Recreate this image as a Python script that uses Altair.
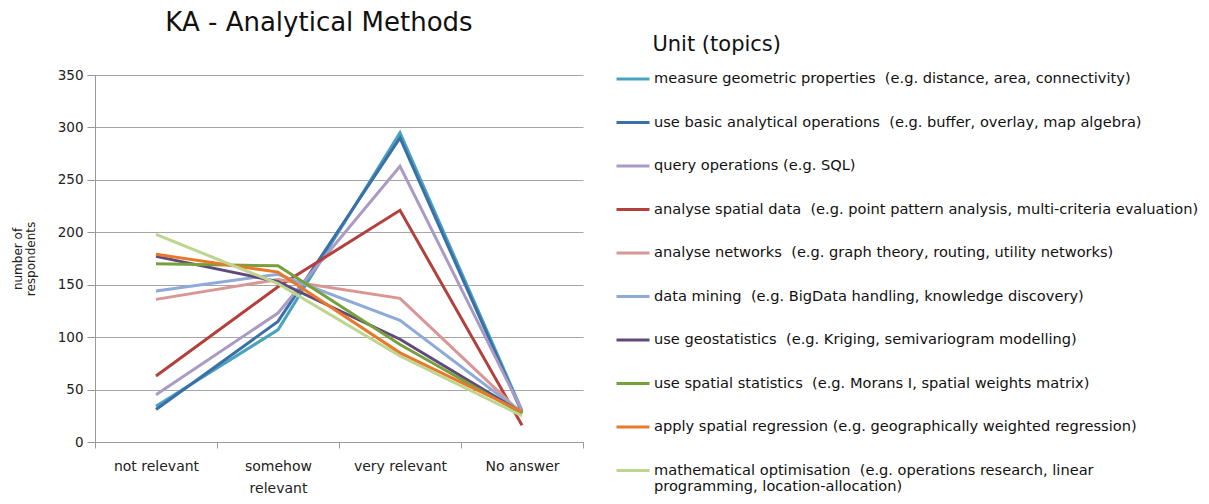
import altair as alt
import pandas as pd

categories = ["not relevant", "somehow relevant", "very relevant", "No answer"]

NB = "\u00a0"
series = [
    "measure geometric properties " + NB + "(e.g. distance, area, connectivity)",
    "use basic analytical operations " + NB + "(e.g. buffer, overlay, map algebra)",
    "query operations (e.g. SQL)",
    "analyse spatial data " + NB + "(e.g. point pattern analysis, multi-criteria evaluation)",
    "analyse networks " + NB + "(e.g. graph theory, routing, utility networks)",
    "data mining " + NB + "(e.g. BigData handling, knowledge discovery)",
    "use geostatistics " + NB + "(e.g. Kriging, semivariogram modelling)",
    "use spatial statistics " + NB + "(e.g. Morans I, spatial weights matrix)",
    "apply spatial regression (e.g. geographically weighted regression)",
    "mathematical optimisation " + NB + "(e.g. operations research, linear programming, location-allocation)",
]

colors = ["#4aa3bd", "#3b6fa8", "#a99bc4", "#b3403d", "#d99694",
          "#8eaad8", "#604a7b", "#77a03c", "#e8782a", "#bcd58f"]

v_measure = [34, 107, 295, 30]
v_basic = [31, 115, 290, 28]
v_query = [45, 123, 263, 30]
v_spatial = [63, 148, 221, 16]
v_networks = [136, 155, 137, 27]
v_mining = [144, 160, 116, 28]
v_geostat = [177, 153, 98, 28]
v_spstat = [170, 168, 93, 27]
v_regress = [179, 162, 85, 29]
v_optim = [198, 151, 82, 25]

values = [v_measure, v_basic, v_query, v_spatial, v_networks,
          v_mining, v_geostat, v_spstat, v_regress, v_optim]

rows = []
for i, (s, vals) in enumerate(zip(series, values)):
    for c, v in zip(categories, vals):
        rows.append({"category": c, "series": s, "value": v, "order": i})
df = pd.DataFrame(rows)

font = "DejaVu Sans"
last = series[-1]
label_expr = (
    "datum.label == '" + last + "' ? "
    "['mathematical optimisation " + NB + "(e.g. operations research, linear', "
    "'programming, location-allocation)'] : datum.label"
)
BLANK = "\u2800"

chart = alt.Chart(df).mark_line(strokeWidth=3).encode(
    x=alt.X("category:N", sort=categories, title=None,
            scale=alt.Scale(paddingInner=0, paddingOuter=0),
            axis=alt.Axis(
                labelAngle=0, labelFont=font, labelFontSize=14, labelColor="#222",
                tickBand="extent", ticks=True, tickSize=6, tickColor="#999",
                domainColor="#999", grid=False, labelPadding=11, labelLineHeight=22,
                labelExpr="datum.label == 'somehow relevant' ? ['somehow', 'relevant'] : datum.label",
            )),
    y=alt.Y("value:Q", title=["number of", "respondents"],
            scale=alt.Scale(domain=[0, 350], nice=False),
            axis=alt.Axis(
                values=[0, 50, 100, 150, 200, 250, 300, 350],
                labelFont=font, labelFontSize=13.5, labelColor="#222",
                tickSize=8, tickColor="#999", domainColor="#999",
                gridColor="#a6a6a6", gridWidth=1.2, labelPadding=4,
                titleFont=font, titleFontSize=12, titleFontWeight="normal",
                titleColor="#222", titlePadding=20, titleLineHeight=13,
            )),
    color=alt.Color("series:N", sort=series,
                    scale=alt.Scale(domain=series, range=colors),
                    legend=alt.Legend(
                        title=BLANK + NB + BLANK + "Unit (topics)",
                        orient="none", legendX=520, legendY=-41,
                        titleFont=font, titleFontSize=21, titleFontWeight="normal",
                        titleColor="#111", titlePadding=6,
                        labelFont=font, labelFontSize=14.6, labelColor="#111",
                        labelLimit=700, labelExpr=label_expr,
                        symbolType="stroke", symbolSize=1089, symbolStrokeWidth=3,
                        labelOffset=3, rowPadding=18.5, labelBaseline="middle",
                    )),
    order=alt.Order("order:Q"),
    detail="series:N",
).properties(
    width=488,
    height=367,
    title=alt.TitleParams("KA - Analytical Methods", font=font, fontSize=26,
                          fontWeight="normal", color="#111", anchor="middle",
                          dx=-20, offset=6, dy=8),
    autosize=alt.AutoSizeParams(type="none"),
    padding={"left": 87, "top": 67, "right": 618, "bottom": 54},
    background="white",
).configure_view(stroke=None)

chart.save("out.html", embed_options={"renderer": "svg", "actions": False})
